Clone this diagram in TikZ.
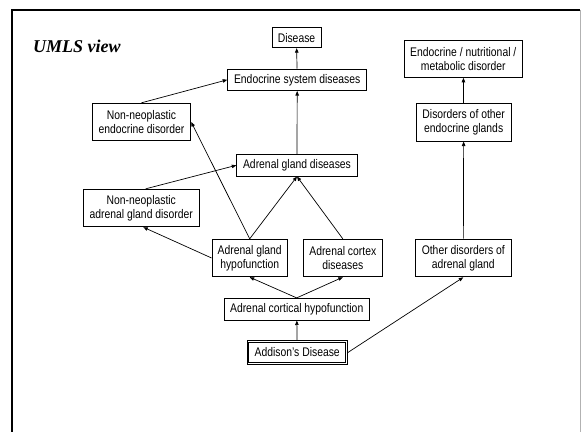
\documentclass[tikz,border=0pt]{standalone}
\usepackage{fontspec}
\setmainfont{Liberation Sans}[FakeStretch=0.83]
\newfontfamily\titlefont{Liberation Serif}
\usetikzlibrary{arrows.meta}
\begin{document}
\begin{tikzpicture}[x=1pt,y=-1pt,
  box/.style={draw,line width=0.9pt,inner sep=0pt,align=center,
    font=\fontsize{12.5}{14}\selectfont},
  isa/.style={line width=0.7pt,-{Triangle[length=4.5pt,width=3.5pt]}}]
\useasboundingbox (0,0) rectangle (581,432);
% slide frame
\draw[line width=2pt] (12,10) -- (580,10);
\draw[line width=2pt] (12,9) -- (12,432);
\draw[line width=0.8pt,gray!60] (580,10) -- (580,432);
\node[anchor=base west,inner sep=0pt,font=\titlefont\fontsize{18}{20}\selectfont\bfseries\itshape] (title) at (33,52) {UMLS view};

% concept boxes
\node[box,minimum width=49,minimum height=20] (dis) at (296.5,37.7) {Disease};
\node[box,minimum width=139,minimum height=21.5] (esd) at (297.2,79.8) {Endocrine system diseases};
\node[box,minimum width=98.5,minimum height=37.5] (nned) at (141.5,122) {Non-neoplastic\\endocrine disorder};
\node[box,minimum width=120.5,minimum height=21.5] (agd) at (297,165.3) {Adrenal gland diseases};
\node[box,minimum width=116,minimum height=37.5] (nnagd) at (141.3,208) {Non-neoplastic\\adrenal gland disorder};
\node[box,minimum width=75.3,minimum height=37.5] (agh) at (249.7,258) {Adrenal gland\\hypofunction};
\node[box,minimum width=79,minimum height=37.5] (acd) at (342.8,258) {Adrenal cortex\\diseases};
\node[box,minimum width=145.3,minimum height=21.7] (ach) at (296.7,309.2) {Adrenal cortical hypofunction};
% the focus concept gets a double frame
\node[box,line width=0.8pt,minimum width=100.5,minimum height=23.5] (add) at (297.2,352.5) {Addison's Disease};
\draw[line width=0.8pt] ([xshift=2.2pt,yshift=-2.2pt]add.north west) rectangle ([xshift=-2.2pt,yshift=2.2pt]add.south east);
\node[box,minimum width=118,minimum height=37.3] (enmd) at (463.3,58.7) {Endocrine / nutritional /\\metabolic disorder};
\node[box,minimum width=94.7,minimum height=37.7] (doeg) at (463.7,122.2) {Disorders of other\\endocrine glands};
\node[box,minimum width=95.3,minimum height=37.7] (odag) at (463.3,258) {Other disorders of\\adrenal gland};

% is-a links
\draw[isa] (esd) -- (dis);
\draw[isa] (agd) -- (esd);
\draw[isa] (nned.north) -- (esd.west);
\draw[isa] (nnagd.north east) ++(-54,0) -- (agd.west);
\draw[isa] (agh.north) -- (nned.east);
\draw[isa] (agh.north) -- (agd.south);
\draw[isa] (acd.north) -- (agd.south);
\draw[isa] (agh.west) -- ([xshift=2pt]nnagd.south);
\draw[isa] (ach.north) -- (agh.south);
\draw[isa] (ach.north) -- (acd.south);
\draw[isa] (add) -- (ach);
\draw[isa] (add.east) -- (odag.south);
\draw[isa] (odag) -- (doeg);
\draw[isa] (doeg) -- (enmd);
\end{tikzpicture}
\end{document}
